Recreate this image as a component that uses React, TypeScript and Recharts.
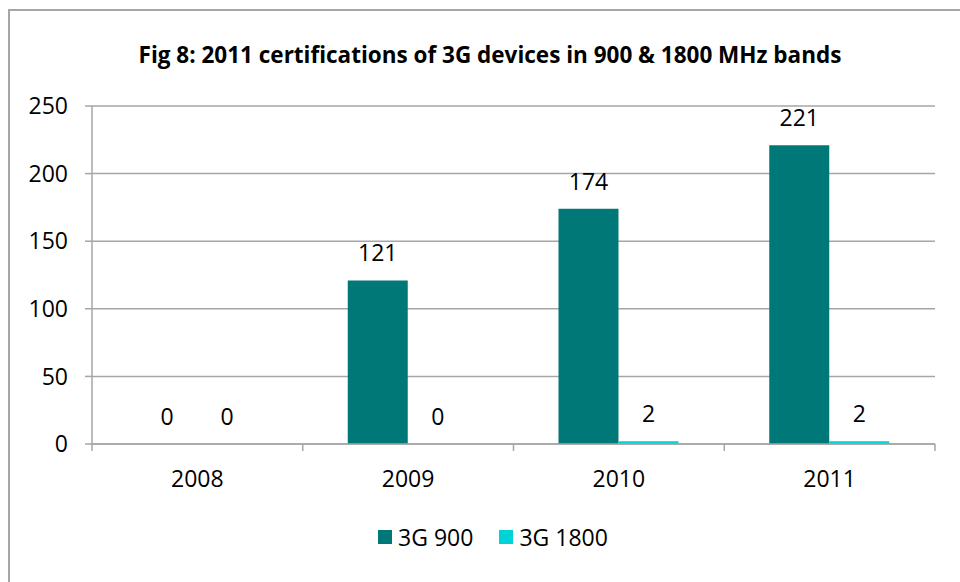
import { BarChart, Bar, XAxis, YAxis, CartesianGrid, Legend, LabelList, Rectangle } from 'recharts';

const years = ['2008', '2009', '2010', '2011'];
const band900 = [0, 121, 174, 221];
const band1800 = [0, 0, 2, 2];
const seriesNames = ['3G 900', '3G 1800'];
const yTicks = [0, 50, 100, 150, 200, 250];

const TEAL = '#007877';
const CYAN = '#00D3D8';
const GRID = '#A6A6A6';
const FONT = '"Open Sans", sans-serif';
const FS = 23;
const X_TICK_MARGIN = 27;

const data = years.map((y, i) => ({ year: y, g900: band900[i], g1800: band1800[i] }));

function LegendBox({ payload }: any) {
  const items = [...(payload || [])].sort((a: any, b: any) => seriesNames.indexOf(a.value) - seriesNames.indexOf(b.value));
  return (
    <div style={{ display: 'flex', justifyContent: 'center', alignItems: 'center', fontFamily: FONT, fontSize: FS, color: '#000' }}>
      {items.map((p: any, i: number) => (
        <div key={p.value} style={{ display: 'flex', alignItems: 'center', marginLeft: i ? 26 : 0 }}>
          <span style={{ width: 14, height: 14, background: p.color, display: 'inline-block', marginRight: 6 }} />
          <span>{p.value}</span>
        </div>
      ))}
    </div>
  );
}

// category label plus tick marks on the band edges (Excel style)
function YearTick(props: any) {
  const { x, y, payload, index, visibleTicksCount } = props;
  const axisY = y - X_TICK_MARGIN;
  const half = payload.offset || 0;
  return (
    <g>
      <line x1={x - half} x2={x - half} y1={axisY} y2={axisY + 7} stroke={GRID} strokeWidth={1.5} />
      {index === visibleTicksCount - 1 && (
        <line x1={x + half} x2={x + half} y1={axisY} y2={axisY + 7} stroke={GRID} strokeWidth={1.5} />
      )}
      <text x={x} y={y} dy="0.71em" textAnchor="middle" fontFamily={FONT} fontSize={FS} fill="#000">
        {payload.value}
      </text>
    </g>
  );
}

// zero values still get a (hidden) rectangle so their "0" label is drawn
function BarShape(props: any) {
  if (props.height < 1) return <g />;
  return <Rectangle {...props} />;
}

const labelStyle = { fontFamily: FONT, fontSize: FS, fill: '#000' };

export default function App() {
  return (
    <div style={{ position: 'fixed', left: 0, top: 0, width: 960, height: 582, overflow: 'hidden', background: '#fff' }}>
      <div style={{ position: 'absolute', left: 8, top: 9, width: 1000, height: 700, border: `2px solid ${GRID}` }} />
      <div style={{ position: 'absolute', left: 0, top: 39, width: 980, textAlign: 'center', fontFamily: FONT, fontWeight: 700, fontSize: 22.5, color: '#000' }}>
        Fig 8: 2011 certifications of 3G devices in 900 &amp; 1800 MHz bands
      </div>
      <div style={{ position: 'absolute', left: 0, top: 0 }}>
        <BarChart width={960} height={582} data={data} margin={{ top: 106, right: 25, left: 0, bottom: 27 }} barGap={0}>
          <CartesianGrid vertical={false} stroke={GRID} strokeWidth={1.5} />
          <XAxis dataKey="year" height={79} axisLine={{ stroke: GRID, strokeWidth: 1.5 }} tickLine={false}
            tickSize={0} tickMargin={X_TICK_MARGIN} tick={<YearTick />} interval={0} />
          <YAxis width={92} domain={[0, 250]} ticks={yTicks} interval={0}
            axisLine={{ stroke: GRID, strokeWidth: 1.5 }} tickLine={{ stroke: GRID, strokeWidth: 1.5 }}
            tickSize={7} tickMargin={17} tick={{ fontFamily: FONT, fontSize: FS, fill: '#000' }} />
          <Legend verticalAlign="bottom" content={<LegendBox />} wrapperStyle={{ top: 521, left: 13, width: 960, bottom: 'auto' }} />
          <Bar dataKey="g900" name={seriesNames[0]} fill={TEAL} barSize={60} minPointSize={0.5} shape={BarShape} isAnimationActive={false}>
            <LabelList dataKey="g900" position="top" offset={19} style={labelStyle} />
          </Bar>
          <Bar dataKey="g1800" name={seriesNames[1]} fill={CYAN} barSize={60} minPointSize={0.5} shape={BarShape} isAnimationActive={false}>
            <LabelList dataKey="g1800" position="top" offset={19} style={labelStyle} />
          </Bar>
        </BarChart>
      </div>
    </div>
  );
}
